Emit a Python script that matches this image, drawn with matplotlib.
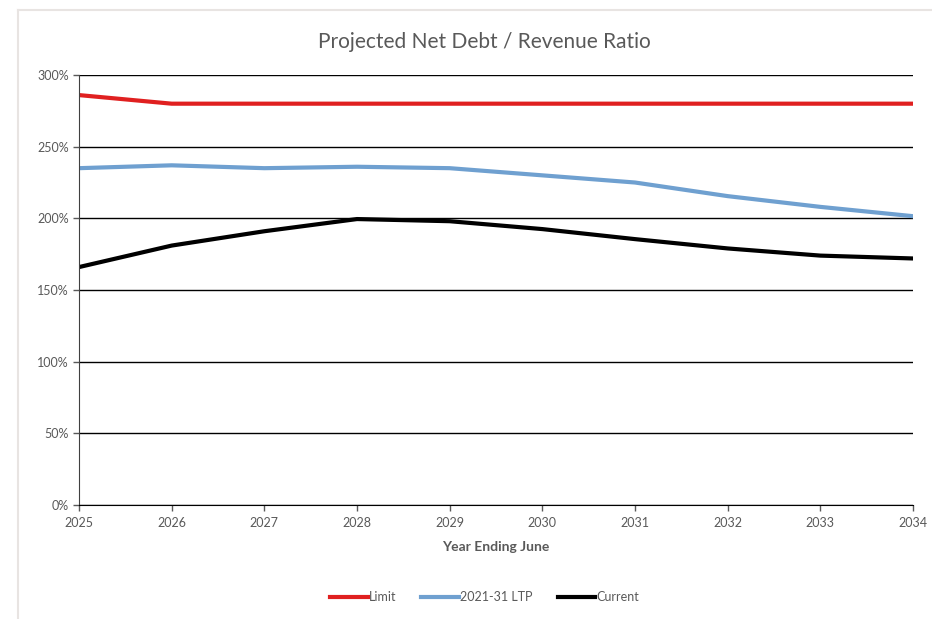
import matplotlib
matplotlib.use("Agg")
import matplotlib.pyplot as plt
from matplotlib.ticker import FuncFormatter
from matplotlib.lines import Line2D

years = [2025, 2026, 2027, 2028, 2029, 2030, 2031, 2032, 2033, 2034]
limit = [286, 280, 280, 280, 280, 280, 280, 280, 280, 280]
ltp = [235, 237, 235, 236, 235, 230, 225, 215.5, 208, 201.5]
current = [166, 181, 191, 199.5, 198, 192.5, 185.5, 179, 174, 172]

plt.rcParams['font.family'] = ['Lato', 'DejaVu Sans']
txt = '#595959'

fig = plt.figure(figsize=(9.32, 6.19), dpi=100)
ax = fig.add_axes([0.0848, 0.1842, 0.8948, 0.6946])

# faint frame round the chart area (top and left edges)
fig.add_artist(Line2D([18 / 932, 18 / 932], [0, 1 - 10 / 619], transform=fig.transFigure,
                      color='#e8e4e2', lw=1.5))
fig.add_artist(Line2D([18 / 932, 1], [1 - 10 / 619, 1 - 10 / 619], transform=fig.transFigure,
                      color='#e8e4e2', lw=1.5))

ax.plot(years, limit, color='#e02020', lw=3, label='Limit')
ax.plot(years, ltp, color='#6fa0d0', lw=3, label='2021-31 LTP')
ax.plot(years, current, color='black', lw=3, label='Current')

ax.set_xlim(2025, 2034)
ax.set_ylim(0, 300)
ax.set_xticks(years)
ax.set_yticks(range(0, 301, 50))
ax.yaxis.set_major_formatter(FuncFormatter(lambda v, p: '%d%%' % v))
ax.tick_params(labelsize=9, colors=txt, length=4, width=1)
ax.tick_params(axis='x', pad=5)
ax.grid(axis='y', color='black', lw=1)
ax.set_axisbelow(True)
for s in ['top', 'right']:
    ax.spines[s].set_visible(False)
ax.spines['left'].set_color('#404040')
ax.spines['bottom'].set_color('black')

ax.set_xlabel('Year Ending June', fontsize=10, fontweight='bold', color=txt, labelpad=8)
fig.text(0.52, 0.932, 'Projected Net Debt / Revenue Ratio', fontsize=15, color=txt, ha='center', va='center')

fig.legend(loc='center', bbox_to_anchor=(0.52, 0.035), ncol=3, frameon=False,
           fontsize=9, handlelength=3, handletextpad=0.1, columnspacing=2, labelcolor=txt)

fig.savefig('out.png', dpi=100)
